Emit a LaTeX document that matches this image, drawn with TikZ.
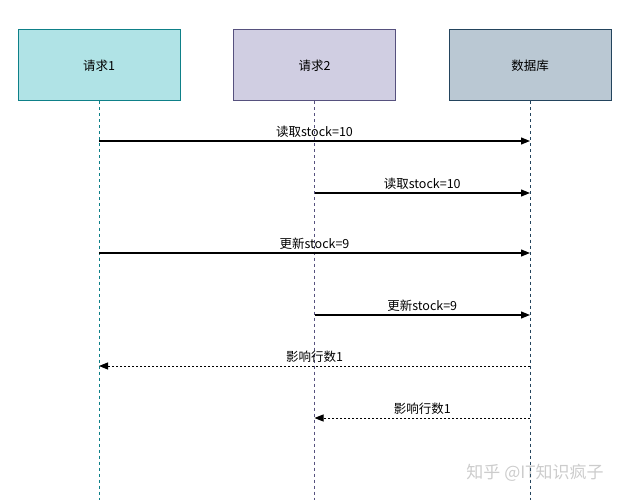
\documentclass[tikz,border=0pt]{standalone}
\usepackage{fontspec}
\setmainfont{Noto Sans CJK SC}
\usetikzlibrary{positioning,arrows.meta}
\definecolor{tealfill}{HTML}{B0E3E6}
\definecolor{tealdraw}{HTML}{0E8088}
\definecolor{lilacfill}{HTML}{D0CEE2}
\definecolor{lilacdraw}{HTML}{56517E}
\definecolor{slatefill}{HTML}{BAC8D3}
\definecolor{slatedraw}{HTML}{23445D}
\tikzset{
  actor/.style={draw, line width=1pt, minimum width=162pt, minimum height=71pt, font=\fontsize{12.5}{15}\selectfont},
  lifeline/.style={line width=0.8pt, dash pattern=on 3pt off 3pt},
  call/.style={-{Triangle[length=9pt,width=7pt]}, line width=1.2pt},
  reply/.style={call, line width=1pt, dash pattern=on 2pt off 2pt},
  msglab/.style={above, inner sep=3pt, font=\fontsize{12.5}{14}\selectfont}
}

\begin{document}
\begin{tikzpicture}[x=1pt,y=-1pt]
  \useasboundingbox (0,0) rectangle (627,500);
  \node (req1)[actor, fill=tealfill, draw=tealdraw] at (99,65.5) {请求1};
  \node (req2)[actor, fill=lilacfill, draw=lilacdraw, right=52.5pt of req1] {请求2};
  \node (db)[actor, fill=slatefill, draw=slatedraw, right=52.5pt of req2] {数据库};

  \node (mark)[text=gray!40, font=\fontsize{17}{20}\selectfont] at (535,473) {知乎 @IT知识疯子};

  \foreach \n/\c in {req1/tealdraw, req2/lilacdraw, db/slatedraw}{
    \coordinate (\n-end) at (\n.south |- 0,500);
    \draw[lifeline, \c] (\n.south) -- (\n-end);
  }

  \foreach \y/\k in {141/a, 193/b, 253/c, 315/d, 366/e, 418/f}{
    \coordinate (req1-\k) at (req1.south |- 0,\y);
    \coordinate (req2-\k) at (req2.south |- 0,\y);
    \coordinate (db-\k) at (db.south |- 0,\y);
  }

  \draw[call] (req1-a) -- node[msglab]{读取stock=10} (db-a);
  \draw[call] (req2-b) -- node[msglab]{读取stock=10} (db-b);
  \draw[call] (req1-c) -- node[msglab]{更新stock=9} (db-c);
  \draw[call] (req2-d) -- node[msglab]{更新stock=9} (db-d);
  \draw[reply] (db-e) -- node[msglab]{影响行数1} (req1-e);
  \draw[reply] (db-f) -- node[msglab]{影响行数1} (req2-f);
\end{tikzpicture}
\end{document}
